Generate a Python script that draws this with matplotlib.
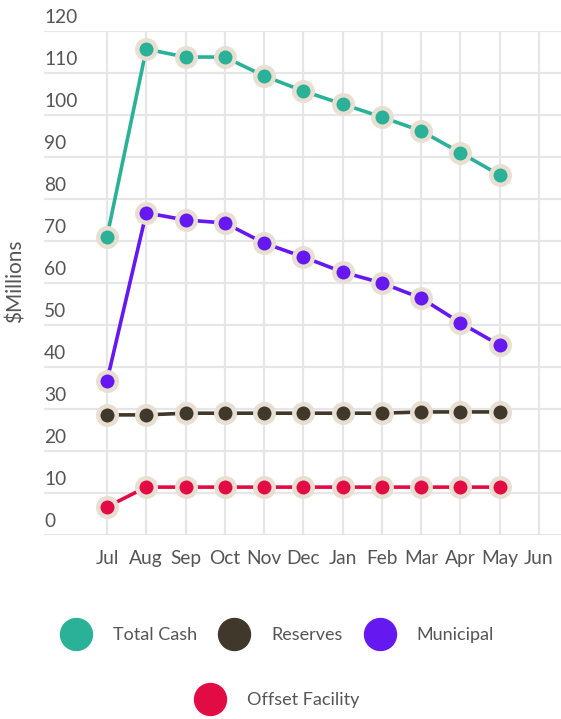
import matplotlib
matplotlib.use('Agg')
import matplotlib.pyplot as plt
import matplotlib.transforms as mtransforms
from matplotlib.lines import Line2D

plt.rcParams['font.family'] = ['Lato', 'DejaVu Sans']

months = ['Jul', 'Aug', 'Sep', 'Oct', 'Nov', 'Dec', 'Jan', 'Feb', 'Mar', 'Apr', 'May', 'Jun']
total_cash = [71.0, 115.7, 113.8, 113.8, 109.3, 105.7, 102.6, 99.5, 96.2, 91.0, 85.7]
reserves = [28.6, 28.6, 29.0, 29.0, 29.0, 29.0, 29.0, 29.0, 29.3, 29.3, 29.3]
municipal = [36.7, 76.7, 75.0, 74.3, 69.5, 66.2, 62.6, 60.0, 56.4, 50.5, 45.2]
offset_facility = [6.7, 11.4, 11.4, 11.4, 11.4, 11.4, 11.4, 11.4, 11.4, 11.4, 11.4]

series = [
    ('Total Cash', total_cash, '#2bb197'),
    ('Reserves', reserves, '#40382a'),
    ('Municipal', municipal, '#6618f0'),
    ('Offset Facility', offset_facility, '#e30b43'),
]
yticks = [0, 10, 20, 30, 40, 50, 60, 70, 80, 90, 100, 110, 120]

text_col = '#555555'
grid_col = '#e6e6e6'
ring_col = '#e8dfd2'

fig = plt.figure(figsize=(5.61, 7.19), dpi=100)
ax = fig.add_axes([44 / 561, 184 / 719, 517 / 561, 504 / 719])

# draw order: offset at the bottom, total cash on top
for name, vals, col in reversed(series):
    ax.plot(range(len(vals)), vals, color=col, lw=2.6, marker='o', ms=13.3,
            mfc=col, mec=ring_col, mew=3.2, clip_on=False, zorder=3)

ax.set_xlim(-1.604, 11.56)
ax.set_ylim(0, 120)
ax.set_xticks(range(len(months)))
ax.set_xticklabels(months, fontsize=13.8, color=text_col)
ax.set_yticks(yticks)
ax.set_yticklabels([])
ax.tick_params(length=0, pad=11)
ax.grid(True, color=grid_col, lw=1.6)
ax.set_axisbelow(True)
for s in ax.spines.values():
    s.set_visible(False)

# y labels sit just above their gridline at the left edge
trans = mtransforms.blended_transform_factory(ax.transAxes, ax.transData)
for v in yticks:
    ax.text(0, v + 1.1, str(v), transform=trans, ha='left', va='bottom',
            fontsize=13.8, color=text_col)

fig.text(16 / 561, 1 - 281 / 719, '$Millions', rotation=90, ha='center', va='center',
         fontsize=15, color=text_col)

handles = [Line2D([], [], ls='none', marker='o', ms=23, mfc=c, mec=c) for _, _, c in series]
names = [n for n, _, _ in series]
kw = dict(frameon=False, fontsize=13, labelcolor=text_col, handlelength=1.8,
          handletextpad=1.15, columnspacing=1.15, borderpad=0, loc='center')
fig.legend(handles[:3], names[:3], ncol=3, bbox_to_anchor=(277 / 561, 1 - 635 / 719), **kw)
fig.legend(handles[3:], names[3:], ncol=1, bbox_to_anchor=(277 / 561, 1 - 700 / 719), **kw)

fig.savefig('out.png', dpi=100)
